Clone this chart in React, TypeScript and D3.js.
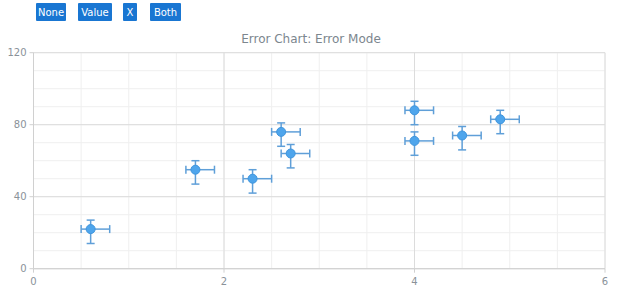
import React from "react";
import * as d3 from "d3";

const xValues = [0.6, 1.7, 2.3, 2.6, 2.7, 4.0, 4.0, 4.5, 4.9];
const yValues = [22, 55, 50, 76, 64, 88, 71, 74, 83];
const xLowerErr = [0.1, 0.1, 0.1, 0.1, 0.1, 0.1, 0.1, 0.1, 0.1];
const xUpperErr = [0.2, 0.2, 0.2, 0.2, 0.2, 0.2, 0.2, 0.2, 0.2];
const yUpperErr = [5, 5, 5, 5, 5, 5, 5, 5, 5];
const yLowerErr = [8, 8, 8, 8, 8, 8, 8, 8, 8];
const xTicks = [0, 2, 4, 6];
const yTicks = [0, 40, 80, 120];
const buttonLabels = ["None", "Value", "X", "Both"];
const titleText = "Error Chart: Error Mode";

const W = 620;
const H = 300;
const FONT = "'DejaVu Sans', Verdana, sans-serif";

export default function App() {
  const x = d3.scaleLinear().domain([0, 6]).range([33.5, 605]);
  const y = d3.scaleLinear().domain([0, 120]).range([268.7, 52.7]);
  const xMinor = d3.range(0, 6.01, 0.5);
  const yMinor = d3.range(0, 120.1, 10);

  const btnX = [36, 78, 123, 150];
  const btnW = [30, 34, 14, 31];

  const barColor = "#5f9fd8";
  const capHalf = 4;

  return (
    <svg
      width={W}
      height={H}
      style={{ position: "absolute", left: 0, top: 0, background: "#fff" }}
      fontFamily={FONT}
    >
      {buttonLabels.map((b, i) => (
        <g key={b}>
          <rect x={btnX[i]} y={3} width={btnW[i]} height={18} fill="#1976d2" rx={1} />
          <text
            x={btnX[i] + btnW[i] / 2}
            y={15.5}
            textAnchor="middle"
            fontSize={10}
            fill="#fff"
          >
            {b}
          </text>
        </g>
      ))}
      <text x={311} y={43} textAnchor="middle" fontSize={12} fill="#7c868e">
        {titleText}
      </text>
      {/* minor grid */}
      {xMinor.map((v) => (
        <line key={"xm" + v} x1={x(v)} x2={x(v)} y1={y(120)} y2={y(0)} stroke="#efefef" />
      ))}
      {yMinor.map((v) => (
        <line key={"ym" + v} x1={x(0)} x2={x(6)} y1={y(v)} y2={y(v)} stroke="#efefef" />
      ))}
      {/* major grid */}
      {xTicks.map((v) => (
        <line key={"xM" + v} x1={x(v)} x2={x(v)} y1={y(120)} y2={y(0)} stroke="#dcdcdc" />
      ))}
      {yTicks.map((v) => (
        <line key={"yM" + v} x1={x(0)} x2={x(6)} y1={y(v)} y2={y(v)} stroke="#dcdcdc" />
      ))}
      {/* axes */}
      <line x1={x(0)} x2={x(0)} y1={y(120)} y2={y(0)} stroke="#d0d0d0" />
      <line x1={x(0)} x2={x(6)} y1={y(0)} y2={y(0)} stroke="#d0d0d0" />
      {yTicks.map((v) => (
        <g key={"yt" + v}>
          <line x1={x(0) - 4} x2={x(0)} y1={y(v)} y2={y(v)} stroke="#d0d0d0" />
          <text x={x(0) - 7} y={y(v) + 3.5} textAnchor="end" fontSize={10} fill="#8a9299">
            {v}
          </text>
        </g>
      ))}
      {xTicks.map((v) => (
        <g key={"xt" + v}>
          <line x1={x(v)} x2={x(v)} y1={y(0)} y2={y(0) + 4} stroke="#d0d0d0" />
          <text x={x(v)} y={y(0) + 16} textAnchor="middle" fontSize={10} fill="#8a9299">
            {v}
          </text>
        </g>
      ))}
      {/* error bars and markers */}
      {xValues.map((xv, i) => {
        const cx = x(xv);
        const cy = y(yValues[i]);
        const xl = x(xv - xLowerErr[i]);
        const xr = x(xv + xUpperErr[i]);
        const yt = y(yValues[i] + yUpperErr[i]);
        const yb = y(yValues[i] - yLowerErr[i]);
        return (
          <g key={"p" + i}>
            <g stroke={barColor} strokeWidth={1.5} fill="none">
              <line x1={xl} x2={xr} y1={cy} y2={cy} />
              <line x1={xl} x2={xl} y1={cy - capHalf} y2={cy + capHalf} />
              <line x1={xr} x2={xr} y1={cy - capHalf} y2={cy + capHalf} />
              <line x1={cx} x2={cx} y1={yt} y2={yb} />
              <line x1={cx - capHalf} x2={cx + capHalf} y1={yt} y2={yt} />
              <line x1={cx - capHalf} x2={cx + capHalf} y1={yb} y2={yb} />
            </g>
            <circle cx={cx} cy={cy} r={4.5} fill="#4ea5ec" stroke="#3f95dd" strokeWidth={1} />
          </g>
        );
      })}
    </svg>
  );
}
